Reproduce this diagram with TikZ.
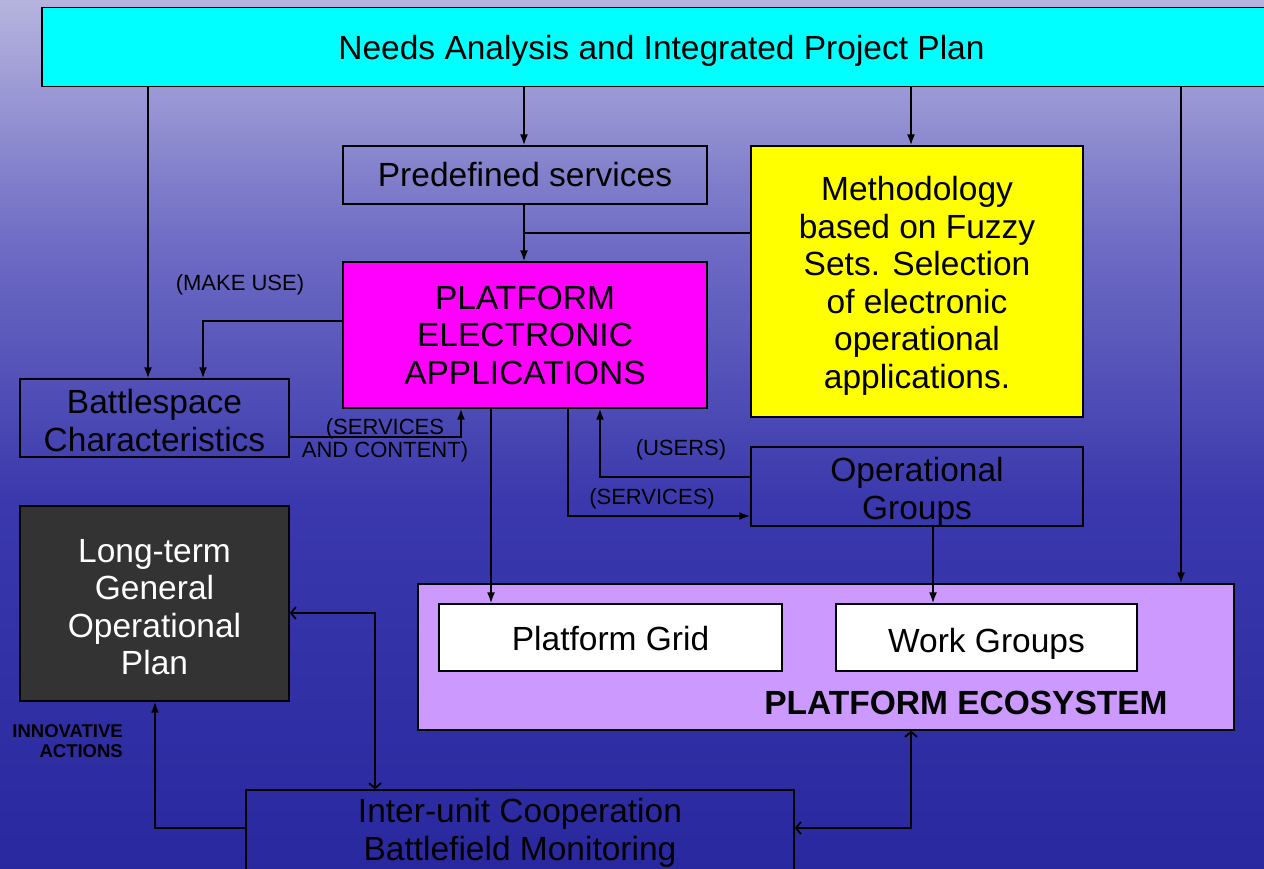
\documentclass[tikz,border=0pt]{standalone}
\usepackage{fontspec}
\setmainfont{Liberation Sans}
\usetikzlibrary{arrows.meta}
\definecolor{cyanbox}{RGB}{0,255,255}
\definecolor{yellowbox}{RGB}{255,255,0}
\definecolor{magentabox}{RGB}{255,0,255}
\definecolor{lilacbox}{RGB}{204,153,255}
\definecolor{darkbox}{RGB}{51,51,51}
\definecolor{bgtop}{RGB}{182,180,222}
\definecolor{bgmidA}{RGB}{110,108,196}
\definecolor{bgmidB}{RGB}{58,56,172}
\definecolor{bgbot}{RGB}{42,40,158}
\pgfdeclareverticalshading{bgshade}{100bp}{color(0bp)=(bgbot); color(25bp)=(bgbot); color(46bp)=(bgmidB); color(61bp)=(bgmidA); color(75bp)=(bgtop); color(100bp)=(bgtop)}
\newcommand\lift[1]{\rule{0pt}{#1pt}}
\begin{document}
\begin{tikzpicture}[x=1pt,y=-1pt,
  box/.style={draw=black,line width=1.4pt,inner sep=0pt,align=center,
    font=\fontsize{33.5}{37.5}\selectfont},
  lbl/.style={inner sep=0pt,align=center,font=\fontsize{22}{23.5}\selectfont},
  conn/.style={line width=1.8pt,black},
  arr/.style={conn,-{Latex[length=11pt,width=8pt]}},
  dbl/.style={conn,{Straight Barb[length=5pt,width=12pt]}-{Straight Barb[length=5pt,width=12pt]}}]
\useasboundingbox (0,0) rectangle (1264,868);
\shade[shading=bgshade] (0,0) rectangle (1264,868);

% nodes
\node[box,fill=cyanbox,minimum width=1239pt,minimum height=79pt] (top) at (661.5,47) {\lift{31}Needs Analysis and Integrated Project Plan};
\node[box,minimum width=364pt,minimum height=58pt] (pre) at (525,175) {Predefined services};
\node[box,fill=yellowbox,minimum width=332pt,minimum height=271pt] (meth) at (917,281.5) {\lift{32.5}Methodology\\based on Fuzzy\\Sets. Selection\\of electronic\\operational\\applications.};
\node[box,fill=magentabox,minimum width=364pt,minimum height=146pt] (pea) at (525,335) {PLATFORM\\ELECTRONIC\\APPLICATIONS};
\node[box,minimum width=269pt,minimum height=78pt] (bat) at (154.5,418) {\lift{29.5}Battlespace\\Characteristics};
\node[box,minimum width=332pt,minimum height=77pt] (opg) at (917,486.5) {\lift{34.5}Operational\\Groups};
\node[box,fill=darkbox,text=white,minimum width=269pt,minimum height=195pt] (lt) at (154.5,603.5) {\lift{30.5}Long-term\\General\\Operational\\Plan};
\node[box,fill=lilacbox,minimum width=816pt,minimum height=146pt] (eco) at (826,657) {};
\node[box,fill=white,minimum width=343pt,minimum height=67pt] (grid) at (610.5,637.5) {\lift{38}Platform Grid\strut};
\node[box,fill=white,minimum width=301pt,minimum height=67pt] (wg) at (986.5,637.5) {\lift{42}Work Groups\strut};
\node[font=\fontsize{33.5}{36}\selectfont\bfseries,inner sep=0pt] (ecot) at (966,703) {PLATFORM ECOSYSTEM};
\node[box,minimum width=548pt,minimum height=86pt] (iu) at (520,833) {Inter-unit Cooperation\\Battlefield Monitoring};

% labels
\node[lbl] (l1) at (240,285) {(MAKE USE)};
\node[lbl] (l2) at (385,440.5) {(SERVICES\\AND CONTENT)};
\node[lbl] (l3) at (681,450) {(USERS)};
\node[lbl] (l4) at (652,499) {(SERVICES)};
\node[lbl,align=right,font=\fontsize{18.5}{20}\selectfont\bfseries,anchor=east] (l5) at (123,741) {INNOVATIVE\\ACTIONS};

% helper coordinates
\coordinate (xa) at (148,0);
\coordinate (xb) at (524,0);
\coordinate (xc) at (911,0);
\coordinate (xd) at (1181,0);
\coordinate (xe) at (203,0);
\coordinate (xf) at (461,0);
\coordinate (xg) at (491,0);
\coordinate (xh) at (568,0);
\coordinate (xi) at (600,0);
\coordinate (xj) at (933,0);
\coordinate (xk) at (375,0);
\coordinate (xl) at (155,0);
\coordinate (xm) at (911,0);
\coordinate (y1) at (0,233);
\coordinate (y2) at (0,321);
\coordinate (y3) at (0,437);
\coordinate (y4) at (0,516);
\coordinate (y5) at (0,477);
\coordinate (y6) at (0,613);
\coordinate (y7) at (0,828);

% connectors
\draw[arr] (top.south -| xa) -- (bat.north -| xa);
\draw[arr] (top.south -| xb) -- (pre.north -| xb);
\draw[arr] (top.south -| xc) -- (meth.north -| xc);
\draw[arr] (top.south -| xd) -- (eco.north -| xd);
\draw[arr] (pre.south -| xb) -- (pea.north -| xb);
\draw[conn] (meth.west |- y1) -- (xb |- y1);
\draw[arr] (pea.west |- y2) -| (bat.north -| xe);
\draw[arr] (bat.east |- y3) -| (pea.south -| xf);
\draw[arr] (pea.south -| xg) -- (grid.north -| xg);
\draw[arr] (pea.south -| xh) |- (opg.west |- y4);
\draw[arr] (opg.west |- y5) -| (pea.south -| xi);
\draw[arr] (opg.south -| xj) -- (wg.north -| xj);
\draw[dbl] (lt.east |- y6) -| (iu.north -| xk);
\draw[arr] (iu.west |- y7) -| (lt.south -| xl);
\draw[dbl] (iu.east |- y7) -| (eco.south -| xm);
\end{tikzpicture}
\end{document}
